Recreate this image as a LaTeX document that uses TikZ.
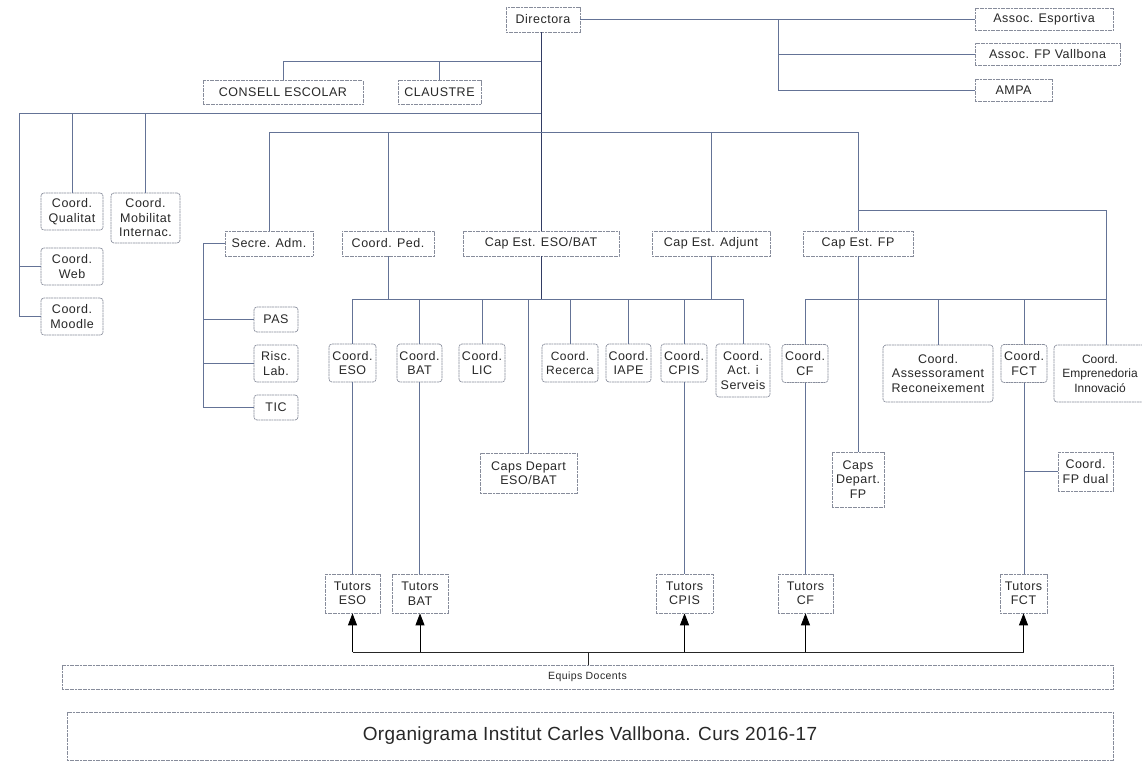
\documentclass[tikz,border=0pt]{standalone}
\usepackage{fontspec}
\setmainfont{Liberation Sans}
\newfontfamily\bxfont[LetterSpace=4]{Liberation Sans}
\newfontfamily\ttlfont[LetterSpace=2]{Liberation Sans}
\usetikzlibrary{arrows.meta}
\definecolor{lnc}{RGB}{100,115,150}
\definecolor{lnd}{RGB}{50,60,100}
\definecolor{bxc}{RGB}{135,140,155}
\definecolor{txc}{RGB}{40,40,40}
\tikzset{
  bx/.style={draw=bxc, line width=0.7pt, dash pattern=on 2pt off 0.6pt, fill=white, align=center, inner sep=1pt,
    text=txc, font=\bxfont\fontsize{12.5}{14.5}\selectfont},
  rbx/.style={bx, rounded corners=3pt},
  ln/.style={draw=lnc, line width=0.8pt},
  lnk/.style={draw=lnd, line width=0.9pt},
  arr/.style={draw=black, line width=0.9pt, -{Triangle[width=9pt,length=12pt]}},
  bus/.style={draw=black!85, line width=0.9pt}
}
\begin{document}
\begin{tikzpicture}[x=1pt,y=-1pt]
\useasboundingbox (0,0) rectangle (1142,779);
\clip (0,0) rectangle (1142,779);
\fill[white] (0,0) rectangle (1142,779);

% ---------- top row
\node[bx, minimum width=74, minimum height=25] (dir) at (543,19.5) {Directora};
\node[bx, minimum width=138, minimum height=22] (esp) at (1044,19.5) {Assoc. Esportiva};
\node[bx, minimum width=145, minimum height=22] (fpv) at (1047.5,54.5) {Assoc. FP Vallbona};
\node[bx, minimum width=77, minimum height=22] (ampa) at (1013.5,90.5) {AMPA};
\node[bx, minimum width=160, minimum height=24] (consell) at (283,92.5) {CONSELL ESCOLAR};
\node[bx, minimum width=83, minimum height=24] (claustre) at (439.5,92.5) {CLAUSTRE};

% ---------- left coords
\node[rbx, minimum width=62, minimum height=37] (qual) at (72,211.5) {Coord.\\Qualitat};
\node[rbx, minimum width=69, minimum height=50] (mob) at (145.5,218) {Coord.\\Mobilitat\\Internac.};
\node[rbx, minimum width=62, minimum height=37] (web) at (72,266.5) {Coord.\\Web};
\node[rbx, minimum width=62, minimum height=37] (moodle) at (72,316.5) {Coord.\\Moodle};

% ---------- second level
\node[bx, minimum width=88, minimum height=25] (secre) at (269,243.5) {Secre. Adm.};
\node[bx, minimum width=92, minimum height=25] (ped) at (388,243.5) {Coord. Ped.};
\node[bx, minimum width=156, minimum height=25] (capeso) at (541,243.5) {Cap Est. ESO/BAT};
\node[bx, minimum width=118, minimum height=25] (capadj) at (711,243.5) {Cap Est. Adjunt};
\node[bx, minimum width=110, minimum height=25] (capfp) at (858,243.5) {Cap Est. FP};

\node[rbx, minimum width=44, minimum height=25] (pas) at (276,319.5) {PAS};
\node[rbx, minimum width=44, minimum height=37] (risc) at (276,363.5) {Risc.\\Lab.};
\node[rbx, minimum width=44, minimum height=25] (tic) at (276,407.5) {TIC};

% ---------- coord row
\node[rbx, minimum width=47, minimum height=38] (ceso) at (352.5,363) {Coord.\\ESO};
\node[rbx, minimum width=45, minimum height=38] (cbat) at (419.5,363) {Coord.\\BAT};
\node[rbx, minimum width=46, minimum height=38] (clic) at (482,363) {Coord.\\LIC};
\node[rbx, minimum width=56, minimum height=38, font=\bxfont\fontsize{12}{14.5}\selectfont] (crec) at (570,363) {Coord.\\Recerca};
\node[rbx, minimum width=45, minimum height=38] (ciape) at (628.5,363) {Coord.\\IAPE};
\node[rbx, minimum width=46, minimum height=38] (ccpis) at (684,363) {Coord.\\CPIS};
\node[rbx, minimum width=54, minimum height=53] (cact) at (743,370.5) {Coord.\\Act. i\\Serveis};
\node[rbx, minimum width=46, minimum height=38] (ccf) at (805,363.5) {Coord.\\CF};
\node[rbx, minimum width=110, minimum height=57] (cass) at (938,373.5) {Coord.\\Assessorament\\Reconeixement};
\node[rbx, minimum width=46, minimum height=38] (cfct) at (1024,363.5) {Coord.\\FCT};
\node[rbx, minimum width=92, minimum height=57, font=\fontsize{12}{14.5}\selectfont] (cemp) at (1100,373.5) {Coord.\\Emprenedoria\\Innovació};

\node[bx, minimum width=97, minimum height=40] (capsdep) at (528.5,473) {Caps Depart\\ESO/BAT};
\node[bx, minimum width=52, minimum height=55] (capsfp) at (858,479.5) {Caps\\Depart.\\FP};
\node[bx, minimum width=55, minimum height=39] (fpdual) at (1085.5,471.5) {Coord.\\FP dual};

% ---------- tutors
\node[bx, minimum width=55, minimum height=39] (teso) at (352.5,593.5) {Tutors\\ESO};
\node[bx, minimum width=56, minimum height=39] (tbat) at (420,593.5) {Tutors\\BAT};
\node[bx, minimum width=57, minimum height=39] (tcpis) at (684.5,593.5) {Tutors\\CPIS};
\node[bx, minimum width=55, minimum height=39] (tcf) at (805.5,593.5) {Tutors\\CF};
\node[bx, minimum width=47, minimum height=39] (tfct) at (1023.5,593.5) {Tutors\\FCT};

\node[bx, minimum width=1051, minimum height=24, font=\bxfont\fontsize{10.5}{12}\selectfont] (equips) at (587.5,677) {Equips Docents};
\node[bx, minimum width=1046, minimum height=48, font=\ttlfont\fontsize{19}{21}\selectfont] (title) at (590,736) {Organigrama Institut Carles Vallbona. Curs 2016-17};

% ---------- connectors
% Directora to the associations
\draw[ln] (dir.east) -- (esp.west);
\coordinate (aj) at (778,19.5);
\draw[ln] (aj) |- (ampa.west);
\draw[ln] (aj |- fpv.west) -- (fpv.west);
% main spine
\coordinate (sp1) at (541,61);
\coordinate (sp2) at (541,113);
\coordinate (sp3) at (541,132);
\draw[lnk] (dir.south -| capeso.north) -- (capeso.north);
\draw[ln] (sp1) -| (consell.north);
\draw[ln] (claustre.north |- sp1) -- (claustre.north);
% left branch
\coordinate (lb) at (19,113);
\draw[ln] (sp2) -- (lb) |- (moodle.west);
\draw[ln] (lb |- web.west) -- (web.west);
\draw[ln] (qual.north |- sp2) -- (qual.north);
\draw[ln] (mob.north |- sp2) -- (mob.north);
% second-level bus
\coordinate (b2r) at (858,132);
\draw[ln] (b2r) -- (secre.north |- sp3) -- (secre.north);
\draw[ln] (ped.north |- sp3) -- (ped.north);
\draw[ln] (capadj.north |- sp3) -- (capadj.north);
\draw[ln] (b2r) -- (capfp.north);
% Secre. Adm.
\coordinate (sl) at (203,243.5);
\draw[ln] (secre.west) -- (sl) |- (tic.west);
\draw[ln] (sl |- pas.west) -- (pas.west);
\draw[ln] (sl |- risc.west) -- (risc.west);
% ESO/BAT bus
\coordinate (eb) at (352,299);
\coordinate (ebr) at (743,299);
\draw[ln] (ceso.north |- eb) -- (ebr) -- (cact.north);
\draw[ln] (ceso.north |- eb) -- (ceso.north);
\draw[lnk] (capeso.south) -- (capeso.south |- eb);
\draw[ln] (ped.south) -- (ped.south |- eb);
\draw[ln] (capadj.south) -- (capadj.south |- eb);
\draw[ln] (cbat.north |- eb) -- (cbat.north);
\draw[ln] (clic.north |- eb) -- (clic.north);
\draw[ln] (capsdep.north |- eb) -- (capsdep.north);
\draw[ln] (crec.north |- eb) -- (crec.north);
\draw[ln] (ciape.north |- eb) -- (ciape.north);
\draw[ln] (ccpis.north |- eb) -- (ccpis.north);
\draw[ln] (ceso.south) -- (teso.north -| ceso.south);
\draw[ln] (cbat.south) -- (tbat.north -| cbat.south);
\draw[ln] (ccpis.south) -- (tcpis.north -| ccpis.south);
% FP
\coordinate (fp1) at (858,210);
\coordinate (ce) at (1106,299);
\coordinate (fb) at (805,299);
\draw[ln] (fp1) -| (ce |- cemp.north);
\draw[ln] (capfp.south) -- (capsfp.north);
\draw[ln] (ccf.north |- fb) -- (ce);
\draw[ln] (ccf.north |- fb) -- (ccf.north);
\draw[ln] (cass.north |- fb) -- (cass.north);
\draw[ln] (cfct.north |- fb) -- (cfct.north);
\draw[ln] (ccf.south) -- (tcf.north -| ccf.south);
\draw[ln] (cfct.south) -- (tfct.north -| cfct.south);
\draw[ln] (tfct.north |- fpdual.west) -- (fpdual.west);
% arrows from Equips Docents
\coordinate (ab) at (588,652);
\draw[bus] (equips.north -| ab) -- (ab);
\draw[bus] (teso.south |- ab) -- (tfct.south |- ab);
\draw[arr] (teso.south |- ab) -- (teso.south);
\draw[arr] (tbat.south |- ab) -- (tbat.south);
\draw[arr] (tcpis.south |- ab) -- (tcpis.south);
\draw[arr] (tcf.south |- ab) -- (tcf.south);
\draw[arr] (tfct.south |- ab) -- (tfct.south);
\end{tikzpicture}
\end{document}
